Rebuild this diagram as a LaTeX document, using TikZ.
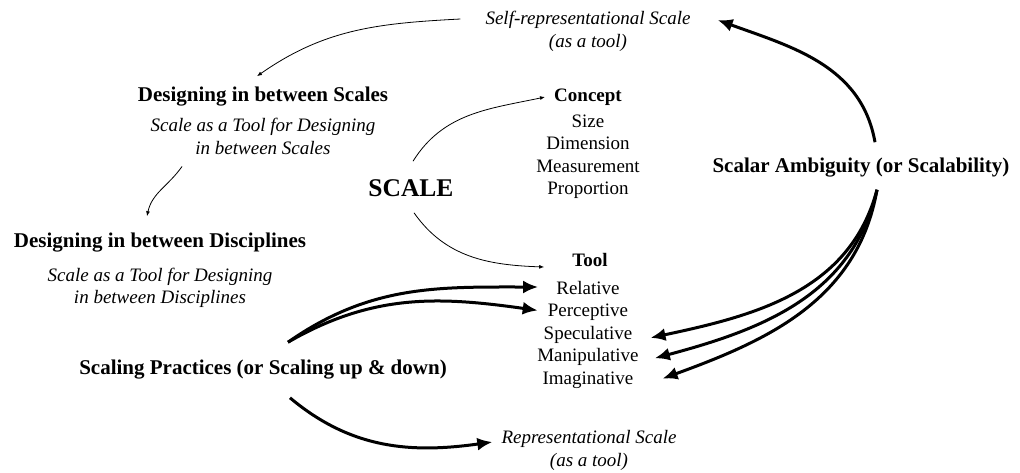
\documentclass[tikz,border=0pt]{standalone}
\usepackage{fontspec}
\setmainfont{Liberation Serif}
\usetikzlibrary{arrows.meta,positioning}

\begin{document}
\begin{tikzpicture}[x=1pt,y=-1pt]
    \tikzset{
      title/.style={font=\fontsize{21}{25}\selectfont\bfseries, inner sep=1pt},
      note/.style={font=\fontsize{19}{23}\selectfont\itshape, align=center, inner sep=1pt},
      head/.style={font=\fontsize{19}{22}\selectfont\bfseries, inner sep=1pt},
      item/.style={font=\fontsize{19}{22}\selectfont, text height=14.5pt, text depth=5.5pt, inner sep=1pt},
      thin/.style={line width=0.8pt, -{Latex[length=5pt,width=4pt]}},
      thick/.style={line width=3pt, -{Latex[length=15pt,width=13pt]}}
    };

    \useasboundingbox (0,0) rectangle (1020,472);

    % main labels
    \node [font=\fontsize{25.5}{30}\selectfont\bfseries, inner sep=1pt] (scale) at (411,188) {SCALE};
    \node [note] (selfrep) at (588,31) {Self-representational Scale\\(as a tool)};
    \node [title] (scales) at (263,97) {Designing in between Scales};
    \node [note] (scalesub) at (263,136) {Scale as a Tool for Designing\\in between Scales};
    \node [title] (disc) at (160,243) {Designing in between Disciplines};
    \node [note, font=\fontsize{19}{22}\selectfont\itshape] (discsub) at (160,288) {Scale as a Tool for Designing\\in between Disciplines};
    \node [title] (amb) at (861,168) {Scalar Ambiguity (or Scalability)};
    \node [title] (practices) at (263,370) {Scaling Practices (or Scaling up \& down)};
    \node [note] (repr) at (589,450) {Representational Scale\\(as a tool)};

    % concept list
    \node [head] (concept) at (588,97) {Concept};
    \node [item] (size) at (588,123) {Size};
    \node [item, below=0pt of size] (dimension) {Dimension};
    \node [item, below=0pt of dimension] (measurement) {Measurement};
    \node [item, below=0pt of measurement] (proportion) {Proportion};

    % tool list
    \node [head] (tool) at (590,260) {Tool};
    \node [item] (relative) at (588,290) {Relative};
    \node [item, below=0pt of relative] (perceptive) {Perceptive};
    \node [item, below=0pt of perceptive] (speculative) {Speculative};
    \node [item, below=0pt of speculative] (manipulative) {Manipulative};
    \node [item, below=0pt of manipulative] (imaginative) {Imaginative};

    % thin arrows
    \draw [thin] ([shift={(-24,-12)}]selfrep.west) to[out=183, in=35] ([shift={(-6,-10)}]scales.north);
    \draw [thin] ([shift={(-81,11)}]scalesub.south) to[out=235, in=78] ([shift={(-13,-16)}]disc.north);
    \draw [thin] ([shift={(2,-17)}]scale.north) to[out=58, in=192] ([shift={(-8,0)}]concept.west);
    \draw [thin] ([shift={(3,15)}]scale.south) to[out=-55, in=178] ([shift={(-27,7)}]tool.west);

    % thick arrows
    \draw [thick] ([shift={(25,-17)}]practices.north) to[out=35, in=180] ([shift={(-17,-3)}]relative.west);
    \draw [thick] ([shift={(25,-17)}]practices.north) to[out=30, in=172] ([shift={(-9,-2)}]perceptive.west);
    \draw [thick] ([shift={(27,17)}]practices.south) to[out=-40, in=188] ([shift={(-8,-8)}]repr.west);
    \draw [thick] ([shift={(14,-15)}]amb.north) to[out=100, in=-20] ([shift={(26,-11)}]selfrep.east);
    \draw [thick] ([shift={(16,11)}]amb.south) to[out=-105, in=12] ([shift={(17,3)}]speculative.east);
    \draw [thick] ([shift={(16,11)}]amb.south) to[out=-103, in=15] ([shift={(15,1)}]manipulative.east);
    \draw [thick] ([shift={(16,11)}]amb.south) to[out=-100, in=20] ([shift={(28,-1)}]imaginative.east);

\end{tikzpicture}
\end{document}
